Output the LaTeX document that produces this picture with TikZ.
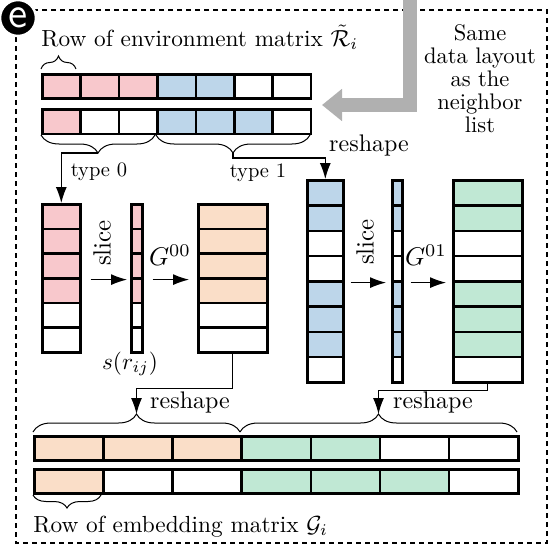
\documentclass[tikz,border=0pt]{standalone}
\usepackage{amsmath}
\usepackage{graphicx}
\usetikzlibrary{arrows.meta,decorations.pathreplacing,positioning}
\definecolor{pinkc}{RGB}{248,200,204}
\definecolor{bluec}{RGB}{189,214,234}
\definecolor{orangec}{RGB}{250,222,200}
\definecolor{greenc}{RGB}{192,232,212}
\tikzstyle{cell}=[draw,line width=2.6pt,inner sep=0pt,anchor=north west]
\tikzstyle{conn}=[draw,line width=1.1pt,-{Latex[length=16pt,width=11pt]}]
\tikzstyle{bigbrace}=[draw,line width=1pt,decorate,decoration={brace,amplitude=18pt}]
\tikzstyle{smallbrace}=[draw,line width=1pt,decorate,decoration={brace,amplitude=13pt}]
\tikzstyle{txt}=[inner sep=0pt,scale=2.33,transform shape]
\tikzstyle{frame}=[draw,dash pattern=on 5pt off 4pt,line width=1.6pt]
\tikzstyle{tag}=[circle,fill=black,draw=white,line width=2.5pt,minimum size=36pt,inner sep=0pt,text=white]
\tikzstyle{nbrarrow}=[draw=black!31,line width=14pt,-{Triangle[length=20pt,width=31pt]}]

\begin{document}
\begin{tikzpicture}[x=1pt,y=-1pt]
\useasboundingbox (0,0) rectangle (558,559);

% Frame and panel tag
\draw[frame] (16,10) rectangle (547,543);

% Arrow from the neighbor list
\coordinate (nbr) at (410,-2);
\coordinate (rowin) at (322,105);
\draw[nbrarrow] (nbr) |- (rowin);
\node[tag] (tag) at (18,18) {\scalebox{4.3}{\sffamily e}};

% Rows of the environment matrix
\foreach \c [count=\i] in {pinkc,pinkc,pinkc,bluec,bluec,white,white}
\node[cell,fill=\c,minimum width=38.4pt,minimum height=24.5pt] (ea\i) at ({41+38.4*(\i-1)},73) {};
\foreach \c [count=\i] in {pinkc,white,white,bluec,bluec,bluec,white}
\node[cell,fill=\c,minimum width=38.4pt,minimum height=24.5pt] (eb\i) at ({41+38.4*(\i-1)},108) {};

\node[txt,anchor=base west] (envlabel) at (41,46.5) {Row of environment matrix $\tilde{\mathcal{R}}_i$};
\draw[smallbrace] (41,69) -- (76,69);
\node[txt,scale=0.966,align=center,anchor=north,font=\fontsize{10}{10.2}\selectfont] (note) at (480,24) {Same\\data layout\\as the\\neighbor\\list};

% Split by neighbor type
\draw[bigbrace] (155,135) -- (41,135);
\draw[bigbrace] (310,135) -- (156,135);
\coordinate (t0) at (98,153);
\coordinate (t1) at (233,153);
\node[txt,scale=0.88] (type0) at (99,172) {type 0};
\node[txt,scale=0.88] (type1) at (258,173) {type 1};
\node[txt,scale=1.03] (reshapea) at (369,145) {reshape};

% Type 0 columns
\foreach \c [count=\i] in {pinkc,pinkc,pinkc,pinkc,white,white}{
\node[cell,fill=\c,minimum width=38pt,minimum height=24.67pt] (pk\i) at (41,{203+24.67*(\i-1)}) {};
\node[cell,fill=\c,minimum width=11pt,minimum height=24.67pt] (sp\i) at (130,{203+24.67*(\i-1)}) {};
}
\foreach \c [count=\i] in {orangec,orangec,orangec,orangec,white,white}
\node[cell,fill=\c,minimum width=69pt,minimum height=24.67pt] (og\i) at (197,{203+24.67*(\i-1)}) {};

% Type 1 columns
\foreach \c [count=\i] in {bluec,bluec,white,white,bluec,bluec,bluec,white}{
\node[cell,fill=\c,minimum width=36pt,minimum height=25.25pt] (bl\i) at (306,{179+25.25*(\i-1)}) {};
\node[cell,fill=\c,minimum width=10pt,minimum height=25.25pt] (sb\i) at (391,{179+25.25*(\i-1)}) {};
}
\foreach \c [count=\i] in {greenc,greenc,white,white,greenc,greenc,greenc,white}
\node[cell,fill=\c,minimum width=69pt,minimum height=25.25pt] (gr\i) at (452,{179+25.25*(\i-1)}) {};

% Connectors
\draw[conn] (t0) -| (pk1.north);
\draw[conn] (t1) -- ++(0,5) -| (bl1.north);
\draw[conn] ([xshift=9pt]pk3.south east) -- ([xshift=-3pt]sp3.south west);
\draw[conn] ([xshift=9pt]sp3.south east) -- ([xshift=-8pt]og3.south west);
\draw[conn] ([xshift=6pt]bl4.south east) -- ([xshift=-5pt]sb4.south west);
\draw[conn] ([xshift=7pt]sb4.south east) -- ([xshift=-6pt]gr4.south west);

\node[txt,rotate=90,scale=1.07] (slicea) at (102,243) {slice};
\node[txt,scale=1.1] (g00) at (170,255) {$G^{00}$};
\node[txt] (sij) at (130,364) {$s(r_{ij})$};
\node[txt,rotate=90,scale=1.07] (sliceb) at (365,242) {slice};
\node[txt,scale=1.1] (g01) at (426,255) {$G^{01}$};

% Rows of the embedding matrix
\foreach \c [count=\i] in {orangec,orangec,orangec,greenc,greenc,white,white}
\node[cell,fill=\c,minimum width=69.1pt,minimum height=24pt] (ga\i) at ({33+69.14*(\i-1)},435) {};
\foreach \c [count=\i] in {orangec,white,white,greenc,greenc,greenc,white}
\node[cell,fill=\c,minimum width=69.1pt,minimum height=24pt] (gb\i) at ({33+69.14*(\i-1)},468) {};

\draw[bigbrace] (33,432) -- (240,432);
\draw[bigbrace] (240,432) -- (517,432);
\coordinate (b0) at (136.5,414);
\coordinate (b1) at (378.5,414);
\draw[conn] (og6.south) -- ++(0,35) -| (b0);
\draw[conn] (gr8.south) -- ++(0,7) -| (b1);
\node[txt,scale=1.03] (reshapeb) at (190,402) {reshape};
\node[txt,scale=1.03] (reshapec) at (433,402) {reshape};

\draw[smallbrace] (101,495) -- (33,495);
\node[txt,anchor=base west] (emblabel) at (33,532) {Row of embedding matrix $\mathcal{G}_i$};

\end{tikzpicture}
\end{document}
